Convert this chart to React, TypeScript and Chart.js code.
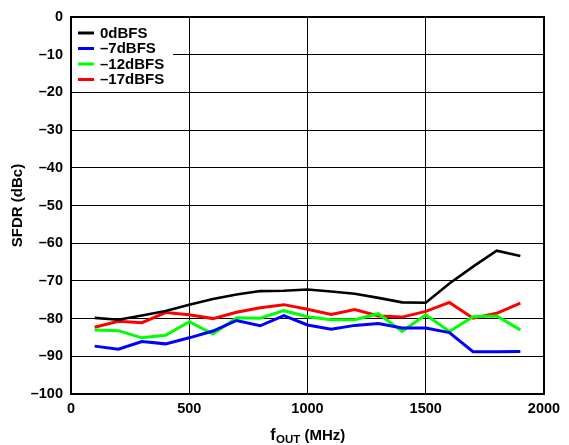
import React, { useEffect, useRef } from "react";
import { Chart, registerables } from "chart.js";

Chart.register(...registerables);

// Output frequency (MHz)
const freqMHz = [100, 200, 300, 400, 500, 600, 700, 800, 900, 1000, 1100, 1200, 1300, 1400, 1500, 1600, 1700, 1800, 1900];

// SFDR (dBc) per digital backoff level
const sfdr0dBFS = [-79.8, -80.3, -79.2, -78.0, -76.3, -74.8, -73.6, -72.7, -72.6, -72.3, -72.8, -73.4, -74.5, -75.7, -75.8, -70.7, -66.2, -62.0, -63.4];
const sfdrMinus7dBFS = [-87.3, -88.1, -86.1, -86.7, -85.1, -83.3, -80.5, -81.9, -79.2, -81.7, -82.8, -81.8, -81.3, -82.5, -82.5, -83.7, -88.8, -88.8, -88.7];
const sfdrMinus12dBFS = [-83.0, -83.2, -85.1, -84.4, -80.8, -84.1, -79.8, -79.9, -77.9, -79.5, -80.3, -80.3, -78.7, -83.4, -79.0, -83.4, -79.5, -79.3, -83.0];
const sfdrMinus17dBFS = [-82.3, -80.7, -81.1, -78.4, -79.0, -80.0, -78.3, -77.1, -76.3, -77.5, -78.9, -77.6, -79.3, -79.6, -78.1, -75.7, -79.9, -78.6, -75.9];

const seriesLabels = ["0dBFS", "–7dBFS", "–12dBFS", "–17dBFS"];
const seriesColors = ["#000000", "#0000FF", "#00FF00", "#FF0000"];

const FONT = "'Liberation Sans', Arial, sans-serif";

const framePlugin = {
  id: "frameAndLegend",
  afterDraw(chart: any) {
    const { ctx, chartArea } = chart;
    const { left, top, right, bottom } = chartArea;
    ctx.save();
    // plot frame
    ctx.strokeStyle = "#000";
    ctx.lineWidth = 2;
    ctx.strokeRect(left, top, right - left, bottom - top);

    // legend box
    ctx.fillStyle = "#fff";
    ctx.fillRect(left + 1, top + 1, 101, 73);
    ctx.font = `bold 15px ${FONT}`;
    ctx.textBaseline = "middle";
    ctx.textAlign = "left";
    chart.data.datasets.forEach((ds: any, i: number) => {
      const y = top + 16 + i * 15.5;
      ctx.strokeStyle = ds.borderColor;
      ctx.lineWidth = 3;
      ctx.beginPath();
      ctx.moveTo(left + 7, y);
      ctx.lineTo(left + 23, y);
      ctx.stroke();
      ctx.fillStyle = "#000";
      ctx.fillText(ds.label, left + 29, y + 0.5);
    });

    // x-axis title with subscript
    const cx = (left + right) / 2;
    const baseY = 440;
    const fMain = `bold 16px ${FONT}`;
    const fSub = `bold 11.5px ${FONT}`;
    const fRest = `bold 15px ${FONT}`;
    ctx.textBaseline = "alphabetic";
    ctx.font = fMain;
    const wF = ctx.measureText("f").width;
    ctx.font = fSub;
    const wSub = ctx.measureText("OUT").width;
    ctx.font = fRest;
    const wRest = ctx.measureText(" (MHz)").width;
    let x = cx - (wF + wSub + wRest) / 2;
    ctx.fillStyle = "#000";
    ctx.font = fMain;
    ctx.fillText("f", x, baseY);
    x += wF + 0.5;
    ctx.font = fSub;
    ctx.fillText("OUT", x, baseY + 3);
    x += wSub;
    ctx.font = fRest;
    ctx.fillText(" (MHz)", x, baseY);
    ctx.restore();
  },
};

export default function App() {
  const canvasRef = useRef<HTMLCanvasElement | null>(null);

  useEffect(() => {
    document.body.style.margin = "0";
    const canvas = canvasRef.current;
    if (!canvas) return;
    const series = [sfdr0dBFS, sfdrMinus7dBFS, sfdrMinus12dBFS, sfdrMinus17dBFS];
    const chart = new Chart(canvas, {
      type: "line",
      data: {
        datasets: series.map((vals, i) => ({
          label: seriesLabels[i],
          data: freqMHz.map((f, j) => ({ x: f, y: vals[j] })),
          borderColor: seriesColors[i],
          backgroundColor: seriesColors[i],
          borderWidth: i === 0 ? 2.6 : 3,
          pointRadius: 0,
          tension: 0,
          fill: false,
        })),
      },
      options: {
        responsive: false,
        animation: false,
        events: [],
        layout: { padding: { left: 0, top: 17, right: 25, bottom: 0 } },
        plugins: {
          legend: { display: false },
          tooltip: { enabled: false },
        },
        scales: {
          x: {
            type: "linear",
            min: 0,
            max: 2000,
            afterFit: (axis: any) => {
              axis.height = 51;
            },
            ticks: {
              stepSize: 500,
              padding: 6,
              color: "#000",
              font: { family: FONT, size: 14.5, weight: "bold" },
              maxRotation: 0,
              callback: (v: any) => String(v),
            },
            grid: { color: "#000", lineWidth: 1, drawTicks: false },
            border: { display: true, color: "#000", width: 2 },
          },
          y: {
            type: "linear",
            min: -100,
            max: 0,
            afterFit: (axis: any) => {
              axis.width = 71;
            },
            ticks: {
              stepSize: 10,
              padding: 8,
              color: "#000",
              font: { family: FONT, size: 14.5, weight: "bold" },
              callback: (v: any) => String(v).replace("-", "–"),
            },
            title: {
              display: true,
              text: "SFDR (dBc)",
              color: "#000",
              font: { family: FONT, size: 15, weight: "bold" },
              padding: { top: 9, bottom: 0 },
            },
            grid: { color: "#000", lineWidth: 1, drawTicks: false },
            border: { display: true, color: "#000", width: 2 },
          },
        },
      },
      plugins: [framePlugin],
    });
    return () => chart.destroy();
  }, []);

  return (
    <div style={{ position: "absolute", left: 0, top: 0, width: 569, height: 445, background: "#fff" }}>
      <canvas ref={canvasRef} width={569} height={445} />
    </div>
  );
}
